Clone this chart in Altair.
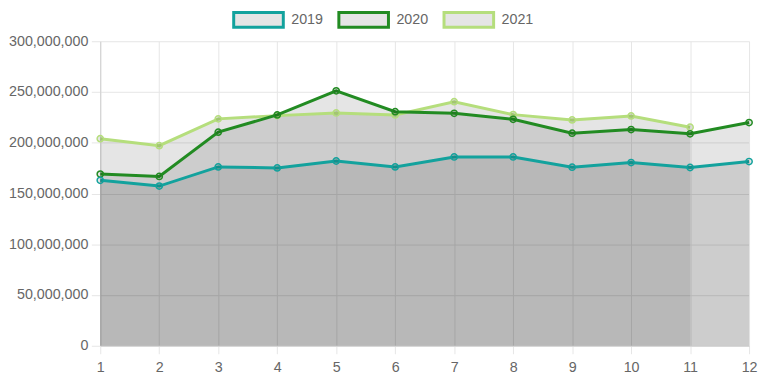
import altair as alt
import pandas as pd

months = list(range(1, 13))
years = ["2019", "2020", "2021"]
v2019 = [163_000_000, 157_300_000, 176_200_000, 175_200_000, 182_000_000, 176_200_000,
         186_000_000, 186_000_000, 175_900_000, 180_500_000, 175_600_000, 181_500_000]
v2020 = [169_100_000, 166_800_000, 210_400_000, 227_400_000, 251_100_000, 230_600_000,
         229_000_000, 223_100_000, 209_400_000, 213_000_000, 208_800_000, 219_900_000]
v2021 = [204_000_000, 197_100_000, 223_500_000, 226_700_000, 229_300_000, 227_400_000,
         240_400_000, 227_700_000, 222_500_000, 226_400_000, 215_300_000]
colors = ["#13a29d", "#228b22", "#b5de7c"]
y_ticks = [0, 50_000_000, 100_000_000, 150_000_000, 200_000_000, 250_000_000, 300_000_000]

rows = []
for yr, vals in zip(years, [v2019, v2020, v2021]):
    for m, v in zip(months, vals):
        rows.append({"month": m, "value": v, "year": yr})
df = pd.DataFrame(rows)

x_enc = alt.X("month:Q", scale=alt.Scale(domain=[1, 12], nice=False),
              axis=alt.Axis(values=months, title=None, format="d", labelPadding=7,
                            tickSize=8, labelFlush=False))
y_enc = alt.Y("value:Q", stack=None, scale=alt.Scale(domain=[0, 300_000_000], nice=False),
              axis=alt.Axis(values=y_ticks, title=None, format=",d", labelPadding=3.5,
                            tickSize=9))

scale = alt.Scale(domain=years, range=colors)
legend = alt.Legend(
    title=None, orient="none", direction="horizontal", legendX=133, legendY=-48,
    symbolType="M-1,-0.3H1V0.3H-1Z", symbolSize=2500, symbolStrokeWidth=3,
    symbolFillColor="#e5e5e5", symbolOpacity=1, labelOffset=6.5, columnPadding=9,
    labelFontSize=14.4, labelColor="#666666", labelFont="Liberation Sans", padding=0,
)
stroke_line = alt.Stroke("year:N", scale=scale, legend=legend)
stroke_pt = alt.Stroke("year:N", scale=scale, legend=None)

base = alt.Chart(df)
areas = base.mark_area(color="black", opacity=0.1).encode(x=x_enc, y=y_enc, detail="year:N")

layers = [areas]
for yr in reversed(years):
    sub = base.transform_filter(alt.datum.year == yr)
    layers.append(sub.mark_line(strokeWidth=3).encode(x=x_enc, y=y_enc, stroke=stroke_line))
    layers.append(sub.mark_circle(size=40, opacity=1, fill="black", fillOpacity=0.1,
                                  strokeWidth=1.5).encode(x=x_enc, y=y_enc, stroke=stroke_pt))

chart = alt.layer(*layers).properties(
    width=654, height=307,
    autosize=alt.AutoSizeParams(type="none"),
    padding={"left": 93, "top": 32, "right": 10, "bottom": 30},
).configure_view(strokeWidth=0).configure_axis(
    labelFont="Liberation Sans", labelFontSize=14.4, labelColor="#666666",
    gridColor="#e6e6e6", tickColor="#e6e6e6", domainColor="#cfcfcf",
)

chart.save("out.html", embed_options={"renderer": "svg", "actions": False})
